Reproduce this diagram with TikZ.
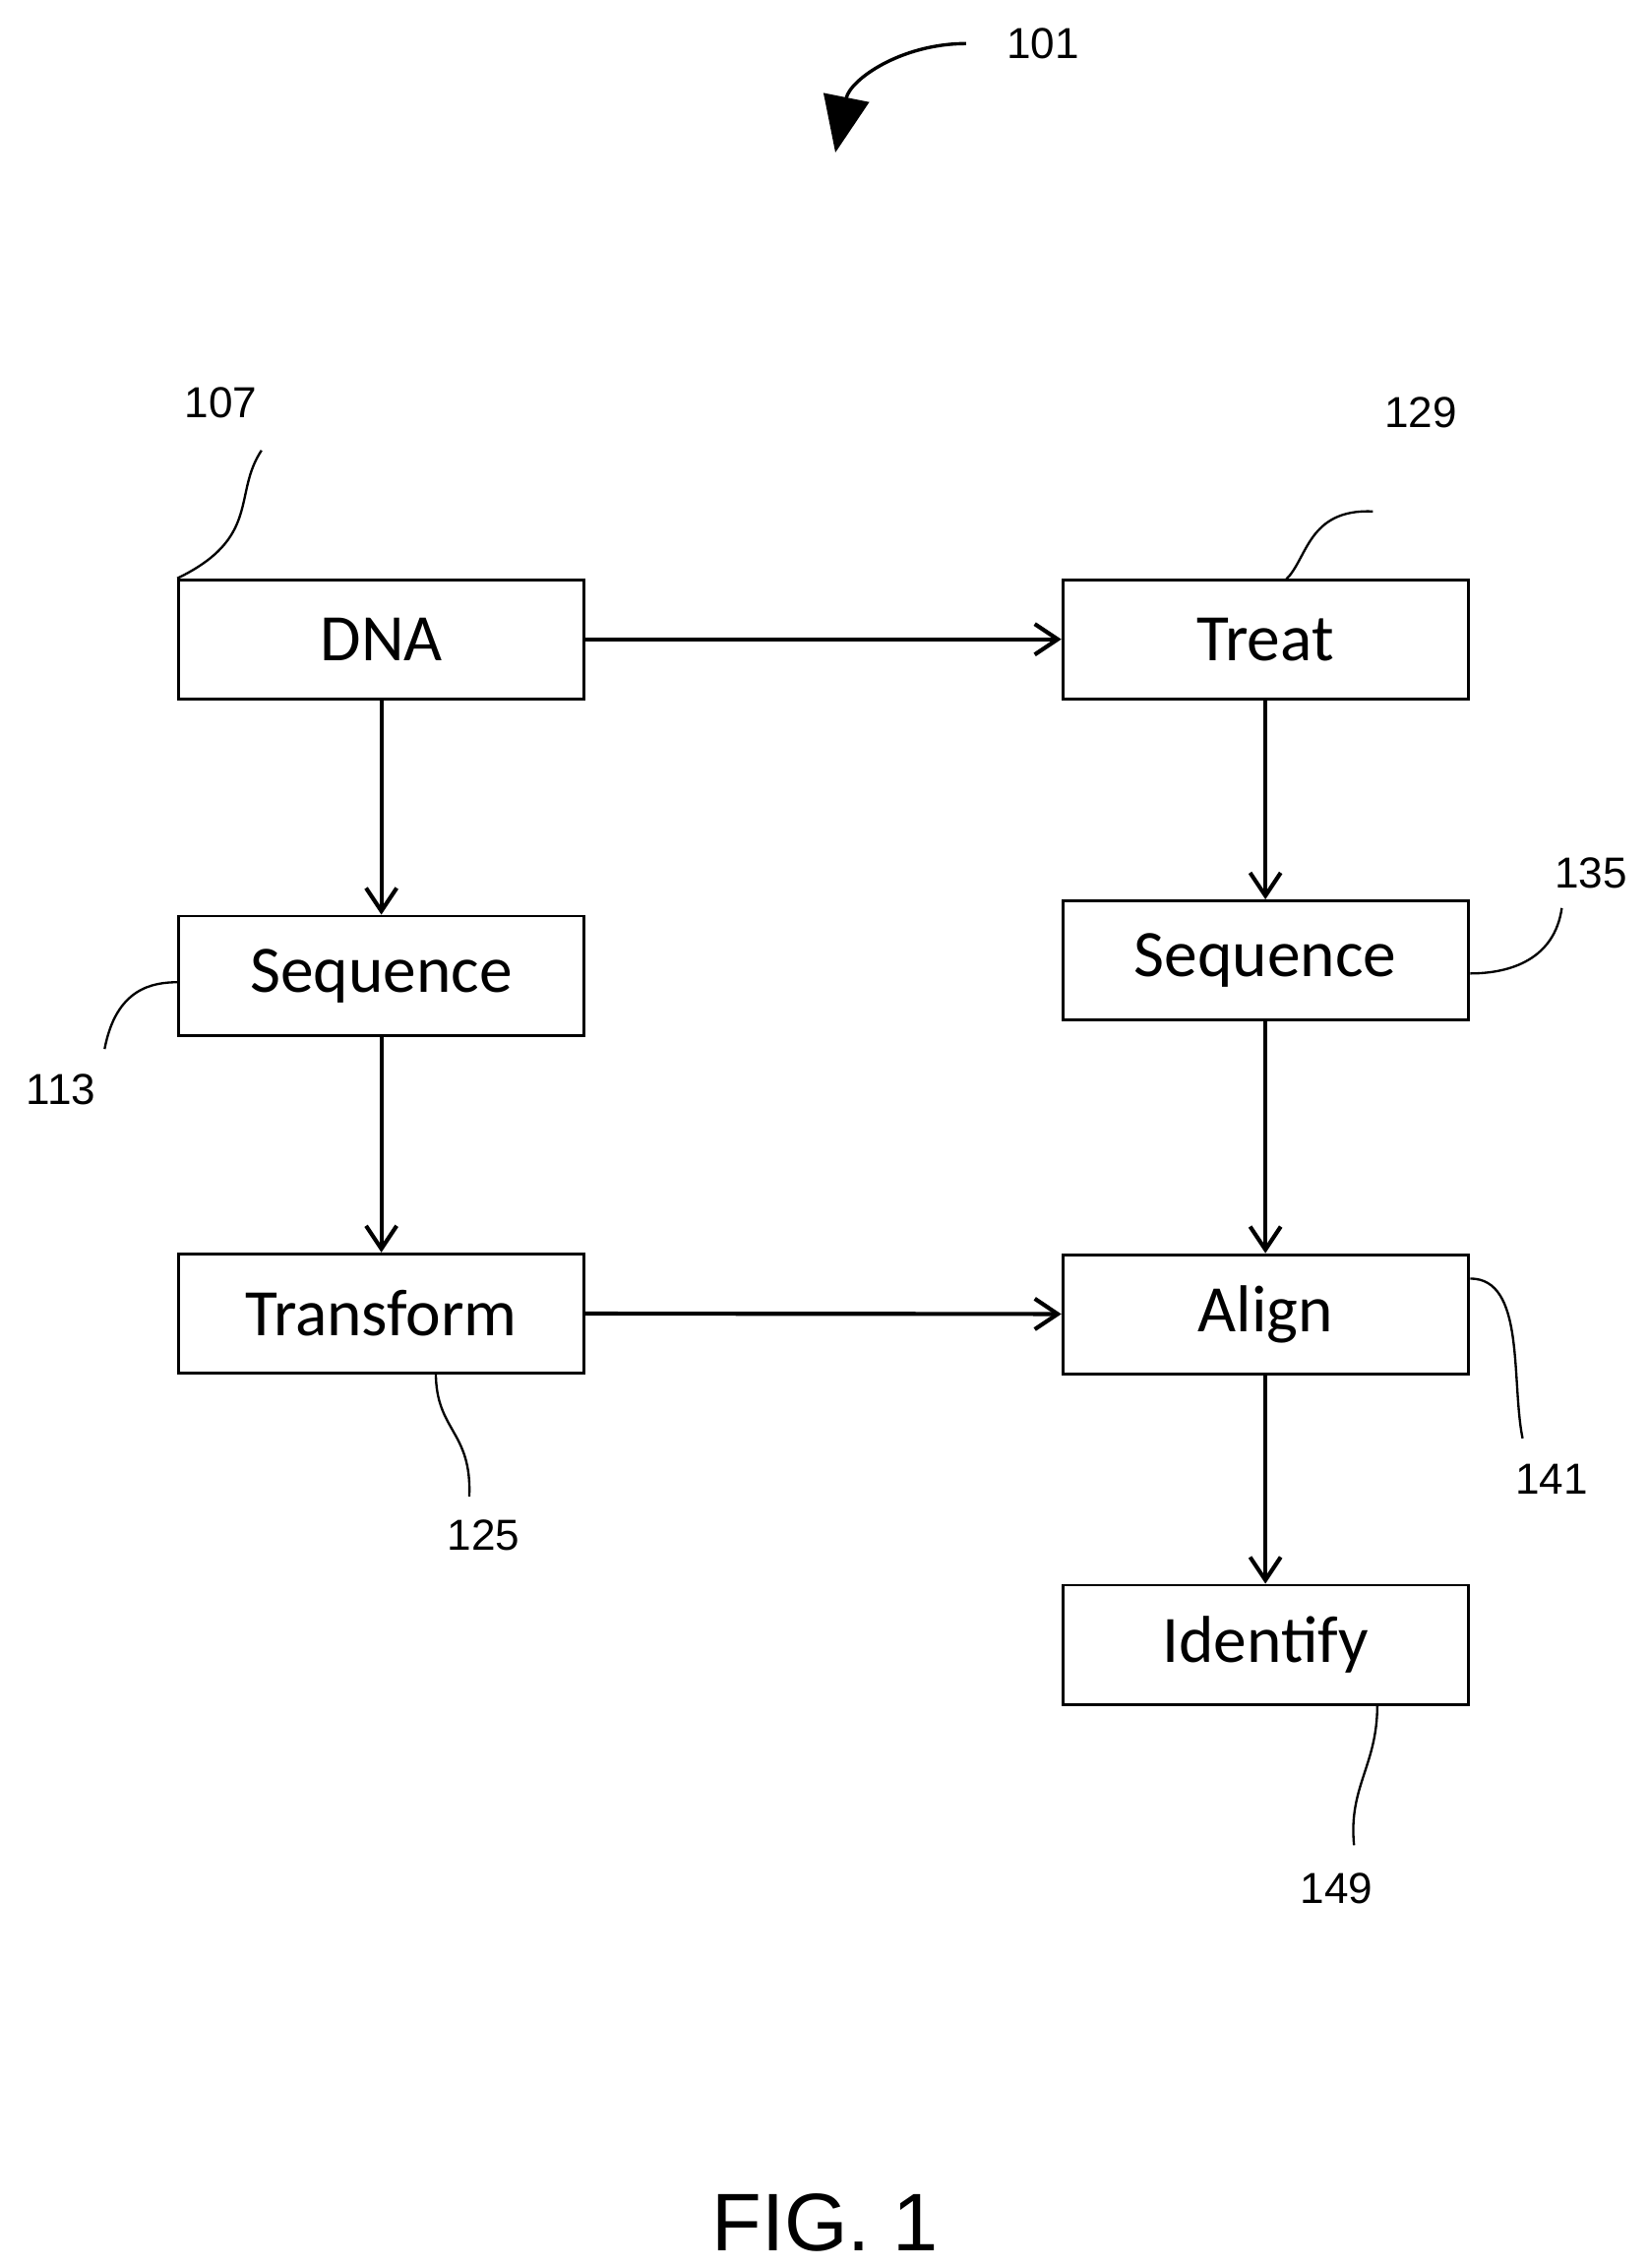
\documentclass[tikz,border=0pt]{standalone}
\usepackage{fontspec}
\setmainfont{Liberation Sans}
\newfontfamily\boxfont{Carlito}
\usetikzlibrary{arrows.meta}
\begin{document}
\begin{tikzpicture}[x=0.02cm,y=-0.02cm,
  box/.style={draw,line width=1.1pt,minimum width=5.58cm,minimum height=1.64cm,inner sep=0pt,font=\boxfont\fontsize{26}{30}\selectfont},
  lab/.style={font=\fontsize{17}{20}\selectfont},
  lead/.style={line width=0.9pt},
  arr/.style={line width=1.6pt,-{Straight Barb[length=9pt,width=12pt,line width=1.6pt]}}]
\useasboundingbox (0,0) rectangle (1134,1561);
\node[box] (dna) at (262.5,440) {DNA};
\node[box] (treat) at (871,440) {Treat};
\node[box] (seql) at (262.5,671.5) {Sequence};
\node[box] (seqr) at (871,661) {Sequence};
\node[box] (trans) at (262.5,904) {Transform};
\node[box] (align) at (871,904.5) {Align};
\node[box] (ident) at (871,1132) {Identify};
\draw[arr] (dna) -- (treat);
\draw[arr] (trans) -- (align);
\draw[arr] (dna) -- (seql);
\draw[arr] (seql) -- (trans);
\draw[arr] (treat) -- (seqr);
\draw[arr] (seqr) -- (align);
\draw[arr] (align) -- (ident);
\node[lab] (l107) at (152,277) {107};
\node[lab] (l129) at (978,284) {129};
\node[lab] (l135) at (1095,601) {135};
\node[lab] (l113) at (42,750) {113};
\node[lab] (l141) at (1068,1018) {141};
\node[lab] (l125) at (333,1057) {125};
\node[lab] (l149) at (920,1300) {149};
\node[lab] (l101) at (718,30) {101};
\node[font=\fontsize{32}{36}\selectfont] (fig) at (568,1530) {FIG. 1};
\coordinate (a1) at (180,310);
\draw[lead] (a1) .. controls (160,340) and (180,370) .. (dna.north west);
\coordinate (a2) at (945,352);
\draw[lead] (a2) .. controls (900,350) and (900,385) .. (885,399);
\coordinate (a3) at (1075,625);
\draw[lead] (a3) .. controls (1070,660) and (1040,670) .. (1012,670);
\coordinate (a4) at (72,722);
\draw[lead] (a4) .. controls (80,680) and (105,676) .. (123,676);
\coordinate (a5) at (1048,990);
\draw[lead] (1012,880) .. controls (1050,880) and (1040,950) .. (a5);
\coordinate (a6) at (323,1030);
\draw[lead] (300,945) .. controls (300,985) and (325,985) .. (a6);
\coordinate (a7) at (932,1270);
\draw[lead] (948,1174) .. controls (948,1215) and (928,1230) .. (a7);
\coordinate (s101) at (665,30);
\coordinate (e101) at (575,105);
\draw[line width=1.3pt,-{Triangle[length=22pt,width=18pt]}] (s101) .. controls (620,30) and (585,55) .. (e101);
\end{tikzpicture}
\end{document}
